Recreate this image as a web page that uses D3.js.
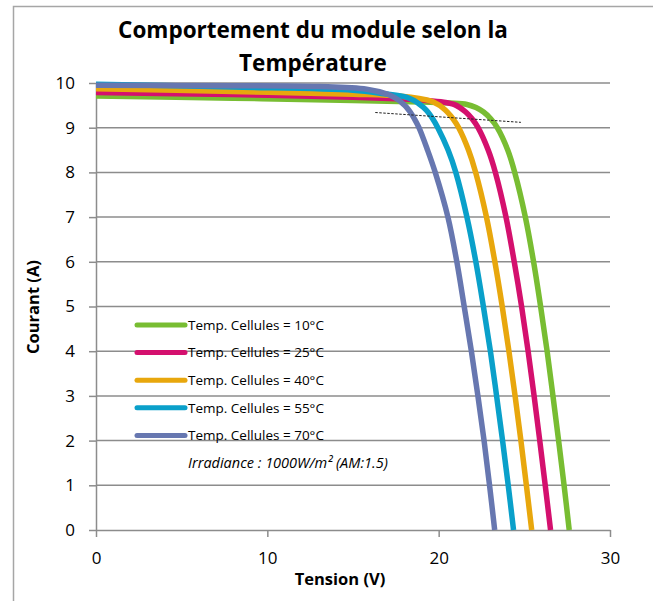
<!DOCTYPE html>
<html>
<head>
<meta charset="utf-8">
<script src="https://cdn.jsdelivr.net/npm/d3@7"></script>
<style>
  body { margin: 0; background: #fff; }
  svg { display: block; }
</style>
</head>
<body>
<script>
// courbes I-V
const labels = ["Temp. Cellules = 10°C", "Temp. Cellules = 25°C", "Temp. Cellules = 40°C",
                "Temp. Cellules = 55°C", "Temp. Cellules = 70°C"];

const volt10 = [0, 8, 15, 19, 20.6, 21.65, 22.18, 22.62, 23.04, 23.42, 24.03, 24.44, 25.06, 25.54, 25.95, 26.33, 26.67, 27.0, 27.32, 27.62];
const curr10 = [9.71, 9.66, 9.61, 9.575, 9.55, 9.52, 9.45, 9.35, 9.2, 9.0, 8.5, 8.0, 7.0, 6.0, 5.0, 4.0, 3.0, 2.0, 1.0, 0];

const volt25 = [0, 8, 15, 17.5, 19.3, 20.3, 20.89, 21.24, 21.58, 21.95, 22.3, 22.89, 23.31, 23.93, 24.41, 24.84, 25.22, 25.57, 25.9, 26.22, 26.53];
const curr25 = [9.79, 9.74, 9.68, 9.645, 9.61, 9.57, 9.52, 9.45, 9.35, 9.2, 9.0, 8.5, 8.0, 7.0, 6.0, 5.0, 4.0, 3.0, 2.0, 1.0, 0];

const volt40 = [0, 8, 15, 17.8, 19.52, 19.95, 20.22, 20.51, 20.84, 21.17, 21.74, 22.16, 22.79, 23.28, 23.71, 24.1, 24.46, 24.8, 25.12, 25.43];
const curr40 = [9.87, 9.81, 9.75, 9.705, 9.6, 9.52, 9.45, 9.35, 9.2, 9.0, 8.5, 8.0, 7.0, 6.0, 5.0, 4.0, 3.0, 2.0, 1.0, 0];

const volt55 = [0, 8, 15, 16.8, 18.15, 18.6, 18.9, 19.12, 19.37, 19.65, 19.95, 20.55, 21.0, 21.65, 22.17, 22.61, 23.02, 23.38, 23.73, 24.06, 24.37];
const curr55 = [9.97, 9.91, 9.84, 9.76, 9.68, 9.6, 9.52, 9.45, 9.35, 9.2, 9.0, 8.5, 8.0, 7.0, 6.0, 5.0, 4.0, 3.0, 2.0, 1.0, 0];

const volt70 = [0, 8, 13, 15.8, 17.0, 17.4, 17.72, 17.96, 18.14, 18.34, 18.58, 18.85, 19.35, 19.8, 20.54, 21.06, 21.49, 21.91, 22.29, 22.65, 22.97, 23.27];
const curr70 = [9.95, 9.94, 9.92, 9.86, 9.75, 9.68, 9.6, 9.52, 9.45, 9.35, 9.2, 9.0, 8.5, 8.0, 7.0, 6.0, 5.0, 4.0, 3.0, 2.0, 1.0, 0];

// droite pointillée (points de puissance max)
const mppVolt = [16.3, 24.8];
const mppCurr = [9.34, 9.12];

const xTicks = [0, 10, 20, 30];
const yTicks = [0, 1, 2, 3, 4, 5, 6, 7, 8, 9, 10];

const colors = ["#78bd32", "#d4106e", "#e8a70d", "#0aa0ca", "#6777b0"];

const width = 653, height = 601;
const font = "'Open Sans', sans-serif";

const series = [[volt10, curr10], [volt25, curr25], [volt40, curr40], [volt55, curr55], [volt70, curr70]]
  .map(([v, c], i) => ({ name: labels[i], color: colors[i], pts: v.map((d, j) => [d, c[j]]) }));

const x = d3.scaleLinear().domain([0, 30]).range([96, 610]);
const y = d3.scaleLinear().domain([0, 10]).range([530, 83]);

const svg = d3.select("body").append("svg")
    .attr("width", width)
    .attr("height", height)
    .style("font-family", font);

// cadre
svg.append("path")
    .attr("d", `M13.5,${height} V6.5 H${width}`)
    .attr("fill", "none")
    .attr("stroke", "#a6a6a6")
    .attr("stroke-width", 1.5);

// grille horizontale
svg.append("g")
  .selectAll("line")
  .data(yTicks.filter(d => d > 0))
  .join("line")
    .attr("x1", x(0)).attr("x2", x(30))
    .attr("y1", d => y(d)).attr("y2", d => y(d))
    .attr("stroke", "#8c8c8c")
    .attr("stroke-width", 1.5);

// axe Y
const yAxis = svg.append("g")
    .attr("transform", `translate(${x(0)},0)`)
    .call(d3.axisLeft(y).tickValues(yTicks).tickSize(7).tickPadding(14).tickSizeOuter(0));
yAxis.select(".domain").attr("stroke", "#8c8c8c").attr("stroke-width", 1.5);
yAxis.selectAll(".tick line").attr("stroke", "#8c8c8c").attr("stroke-width", 1.5);
yAxis.selectAll("text").style("font-family", font).style("font-size", "17px").attr("fill", "#000");

// axe X
const xAxis = svg.append("g")
    .attr("transform", `translate(0,${y(0)})`)
    .call(d3.axisBottom(x).tickValues(xTicks).tickSize(7).tickPadding(15).tickSizeOuter(0));
xAxis.select(".domain").attr("stroke", "#8c8c8c").attr("stroke-width", 1.5);
xAxis.selectAll(".tick line").attr("stroke", "#8c8c8c").attr("stroke-width", 1.5);
xAxis.selectAll("text").style("font-family", font).style("font-size", "17px").attr("fill", "#000");

// courbes
const line = d3.line()
    .x(d => x(d[0]))
    .y(d => y(d[1]))
    .curve(d3.curveCatmullRom.alpha(0.5));

svg.append("g")
  .selectAll("path")
  .data(series)
  .join("path")
    .attr("fill", "none")
    .attr("stroke", d => d.color)
    .attr("stroke-width", 5.5)
    .attr("stroke-linecap", "butt")
    .attr("d", d => line(d.pts));

svg.append("line")
    .attr("x1", x(mppVolt[0])).attr("y1", y(mppCurr[0]))
    .attr("x2", x(mppVolt[1])).attr("y2", y(mppCurr[1]))
    .attr("stroke", "#222")
    .attr("stroke-width", 1)
    .attr("stroke-dasharray", "2.5,1.5");

// légende
const legend = svg.append("g")
  .selectAll("g")
  .data(series)
  .join("g")
    .attr("transform", (d, i) => `translate(137,${325 + i * 27.6})`);

legend.append("line")
    .attr("x1", 0).attr("x2", 48)
    .attr("stroke", d => d.color)
    .attr("stroke-width", 5)
    .attr("stroke-linecap", "round");

legend.append("text")
    .attr("x", 51)
    .attr("dy", "0.35em")
    .style("font-size", "13.5px")
    .text(d => d.name);

svg.append("text")
    .attr("x", 188)
    .attr("y", 463)
    .attr("dy", "0.35em")
    .style("font-size", "14.5px")
    .style("font-style", "italic")
    .text("Irradiance : 1000W/m² (AM:1.5)");

// titres
const title = svg.append("text")
    .attr("text-anchor", "middle")
    .style("font-size", "22.5px")
    .style("font-weight", "bold");
title.append("tspan").attr("x", 313).attr("y", 38).text("Comportement du module selon la");
title.append("tspan").attr("x", 313).attr("y", 71).text("Température");

svg.append("text")
    .attr("x", 340)
    .attr("y", 585)
    .attr("text-anchor", "middle")
    .style("font-size", "16.5px")
    .style("font-weight", "bold")
    .text("Tension (V)");

svg.append("text")
    .attr("transform", "translate(39,307) rotate(-90)")
    .attr("text-anchor", "middle")
    .style("font-size", "16.5px")
    .style("font-weight", "bold")
    .text("Courant (A)");
</script>
</body>
</html>
